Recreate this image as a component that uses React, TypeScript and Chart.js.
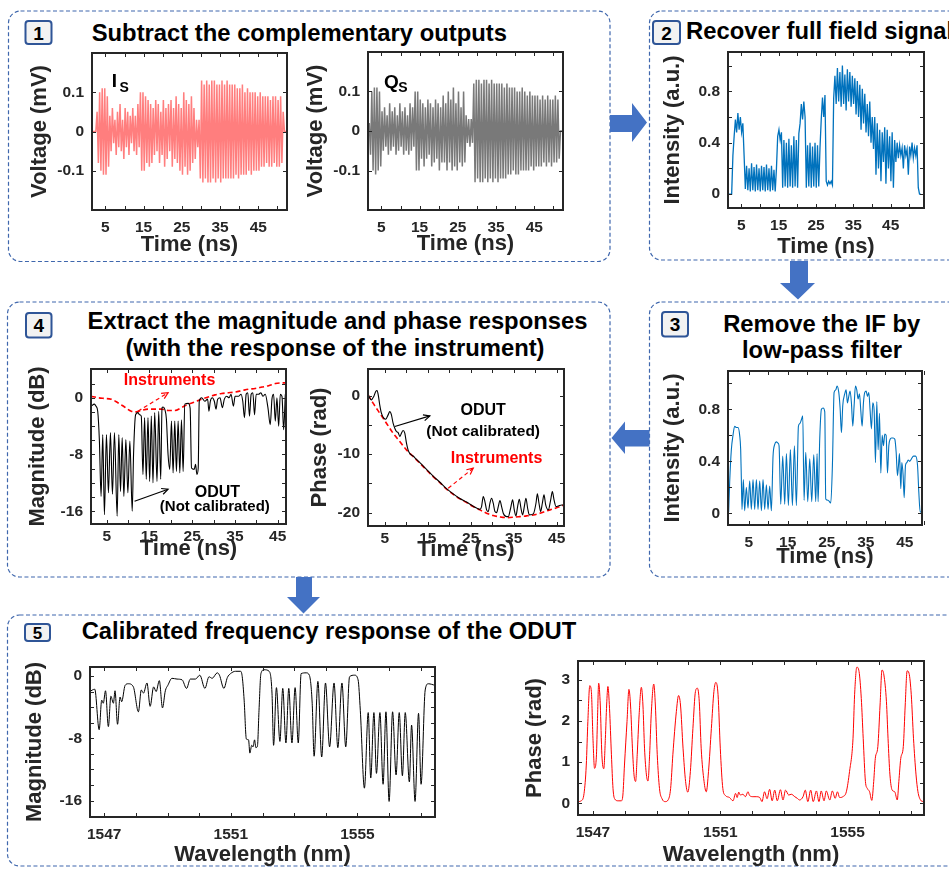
import React, { useEffect, useRef } from 'react';
import { Chart, registerables } from 'chart.js';

Chart.register(...registerables);

const FF = "'Liberation Sans', Arial, Helvetica, sans-serif";
const INK = '#262626';

type Pt = [number, number];

// ================= DATA =================
// Panel 1 : I_S (mV), uniform time grid start/step (ns)
const IS_START = 1.5;
const IS_STEP = 1 / 3;
const IS_VALUES = [
  0, 0, 0, 0,
  0.05, -0.08, 0.1, -0.1, 0.11, -0.11, 0.11, -0.11, 0.09, -0.09,
  0.04, -0.05, 0.06, -0.03, 0.03, -0.06, 0.05, -0.04, 0.07, -0.05, 0.03, -0.07, 0.06, -0.04, 0.05, -0.06, 0.04, -0.03, 0.06, -0.05, 0.04, -0.06, 0.07, -0.04,
  0.1, -0.1, 0.1, -0.1, 0.09,
  -0.08, 0.08, -0.09, 0.07, -0.08, 0.06,
  -0.06, 0.08, -0.05, 0.07, -0.08, 0.05, -0.06, 0.08, -0.09, 0.06, -0.07, 0.07, -0.05, 0.08, -0.09, 0.06,
  -0.07, 0.09, -0.08, 0.07, -0.1, 0.06, -0.11, 0.1, -0.09, 0.08, -0.11, 0.07, -0.1, 0.09, -0.08, 0.06, -0.07,
  0.03, -0.04, 0.03,
  -0.12, 0.13, -0.13, 0.12, -0.12, 0.13, -0.13, 0.12, -0.13, 0.13, -0.12, 0.13, -0.13, 0.12, -0.12, 0.12, -0.13, 0.13, -0.12, 0.12, -0.12, 0.13, -0.12, 0.12, -0.12, 0.12, -0.12,
  0.12, -0.11, 0.11, -0.12, 0.11, -0.11, 0.12, -0.11, 0.1, -0.11, 0.11, -0.1, 0.1, -0.11, 0.1, -0.1, 0.1, -0.1, 0.09, -0.1, 0.1, -0.09, 0.09,
  -0.09, 0.09, -0.08, 0.09, -0.09, 0.08, -0.09, 0.09, -0.08, 0.09, -0.09, 0.08, -0.09, 0.09, -0.08, 0.05,
  0, 0, 0,
];

// Panel 1 : Q_S (mV)
const QS_START = 1.5;
const QS_STEP = 1 / 3;
const QS_VALUES = [
  0, 0.02, -0.06, 0.1, -0.1, 0.11, -0.11, 0.11, -0.1, 0.1, -0.09,
  0.05, -0.05, 0.06, -0.04, 0.04, -0.06, 0.07, -0.05, 0.05, -0.04, 0.06, -0.06, 0.04, -0.05, 0.07, -0.04, 0.05, -0.06, 0.06, -0.05, 0.04, -0.06, 0.07, -0.05, 0.06, -0.04,
  0.1, -0.1, 0.1, -0.1,
  0.08, -0.07, 0.07, -0.09, 0.06, -0.07, 0.08, -0.06, 0.07, -0.09, 0.06, -0.08, 0.08, -0.07, 0.07, -0.1, 0.06, -0.08,
  0.09, -0.08, 0.07, -0.1, 0.1, -0.08, 0.08, -0.1, 0.11, -0.09, 0.07, -0.1, 0.1, -0.08, 0.06, -0.09, 0.1, -0.08,
  0.04, -0.03, 0.03, -0.04, 0.03, -0.03,
  0.12, -0.13, 0.13, -0.12, 0.13, -0.13, 0.12, -0.13, 0.13, -0.12, 0.13, -0.13, 0.12, -0.12, 0.13, -0.13, 0.12, -0.12, 0.12, -0.13, 0.12, -0.12, 0.12, -0.12, 0.11, -0.12, 0.12, -0.11,
  0.11, -0.11, 0.11, -0.1, 0.11, -0.11, 0.1, -0.11, 0.1, -0.1, 0.11, -0.1, 0.1, -0.1, 0.09, -0.1, 0.1, -0.09, 0.09, -0.1, 0.09, -0.09, 0.09, -0.09,
  0.08, -0.09, 0.09, -0.08, 0.08, -0.09, 0.09, -0.08, 0.08, -0.09, 0.08, -0.08, 0.09, -0.08, 0.08, -0.07,
  0, 0, 0,
];

// Panel 2 : recovered full field intensity (a.u.)
const FULL_START = 1.4;
const FULL_STEP = 1 / 3;
const FULL_VALUES = [
  0, 0, 0, 0,
  0.3, 0.45, 0.58, 0.48, 0.63, 0.5, 0.6, 0.48, 0.55, 0.3,
  0.04, 0.22, 0.03, 0.2, 0.02, 0.24, 0.03, 0.21, 0.02, 0.23, 0.03, 0.2, 0.02, 0.22, 0.03, 0.21, 0.02, 0.23, 0.03, 0.2, 0.02, 0.22, 0.03, 0.19, 0.02, 0.2,
  0.45, 0.5, 0.42, 0.48,
  0.05, 0.42, 0.06, 0.4, 0.05, 0.43, 0.06, 0.38, 0.05, 0.45, 0.06, 0.42, 0.05, 0.47,
  0.55, 0.7, 0.58, 0.72, 0.6,
  0.05, 0.38, 0.06, 0.4, 0.05, 0.37, 0.06, 0.4, 0.05, 0.38, 0.06, 0.36,
  0.58, 0.75, 0.6, 0.77,
  0.1, 0.07, 0.1, 0.08, 0.1, 0.07,
  0.75, 0.92, 0.7, 0.98, 0.72, 0.95, 0.68, 1.0, 0.7, 0.93, 0.65, 0.97, 0.72, 0.95, 0.68, 0.92, 0.7, 0.9, 0.62, 0.88, 0.6,
  0.85, 0.5, 0.82, 0.55, 0.78, 0.48, 0.7, 0.45, 0.72, 0.4, 0.6, 0.35, 0.6,
  0.15, 0.55, 0.2, 0.5, 0.1, 0.48, 0.25, 0.52, 0.08, 0.5, 0.2, 0.45, 0.1, 0.48, 0.05, 0.42, 0.25, 0.4,
  0.28, 0.38, 0.3, 0.36, 0.2, 0.38, 0.3, 0.35, 0.15, 0.37, 0.3, 0.4, 0.28, 0.36, 0.3, 0.38,
  0.05, 0, 0,
];

// Panel 3 : low-pass filtered intensity [time ns, a.u.]
const LP_POINTS: Pt[] = [
  [-0.13, 0.01], [0.13, 0.24], [0.56, 0.49], [0.98, 0.6], [1.41, 0.67], [1.84, 0.66], [2.26, 0.66], [2.69, 0.6], [2.95, 0.49], [3.12, 0.26],
  [3.29, 0.03], [3.63, 0.26], [3.97, 0.02], [4.4, 0.2], [4.83, 0.04], [5.26, 0.25], [5.68, 0.03], [6.11, 0.26], [6.54, 0.03], [6.97, 0.26],
  [7.39, 0.03], [7.82, 0.25], [8.25, 0.02], [8.68, 0.26], [9.1, 0.03], [9.53, 0.22], [9.96, 0.03], [10.38, 0.21], [10.81, 0.02], [11.24, 0.44],
  [11.67, 0.53], [12.09, 0.55], [12.52, 0.54], [12.78, 0.52], [13.21, 0.07], [13.72, 0.44], [14.23, 0.07], [14.66, 0.46], [15.17, 0.06], [15.68, 0.49],
  [16.2, 0.06], [16.71, 0.52], [17.22, 0.06], [17.74, 0.67], [18.08, 0.69], [18.5, 0.72], [18.85, 0.75], [19.19, 0.1], [19.62, 0.47], [20.13, 0.09],
  [20.64, 0.42], [21.15, 0.09], [21.67, 0.45], [22.18, 0.09], [22.52, 0.46], [22.78, 0.09], [23.21, 0.58], [23.63, 0.8], [24.06, 0.81], [24.49, 0.78],
  [24.74, 0.11], [25.34, 0.1], [26.03, 0.08], [26.45, 0.37], [26.88, 0.93], [27.31, 0.95], [27.65, 0.98], [28.08, 0.93], [28.42, 0.81], [28.76, 0.62],
  [29.1, 0.83], [29.62, 0.92], [29.96, 0.95], [30.3, 0.85], [30.64, 0.9], [30.98, 0.94], [31.32, 0.85], [31.67, 0.67], [32.01, 0.83], [32.35, 0.98],
  [32.69, 0.95], [33.03, 0.88], [33.38, 0.92], [33.72, 0.79], [34.06, 0.67], [34.4, 0.85], [34.74, 0.93], [35.09, 0.94], [35.43, 0.9], [35.77, 0.93],
  [36.11, 0.79], [36.45, 0.65], [36.79, 0.85], [37.14, 0.79], [37.48, 0.39], [37.82, 0.86], [38.16, 0.49], [38.5, 0.77], [38.85, 0.31], [39.19, 0.6],
  [39.53, 0.52], [39.87, 0.61], [40.21, 0.6], [40.56, 0.31], [40.9, 0.52], [41.24, 0.57], [41.58, 0.58], [42.01, 0.58], [42.44, 0.57], [42.78, 0.47],
  [43.12, 0.29], [43.38, 0.37], [43.63, 0.46], [43.97, 0.19], [44.23, 0.39], [44.57, 0.29], [44.83, 0.12], [45.17, 0.37], [45.51, 0.39], [45.85, 0.41],
  [46.28, 0.4], [46.71, 0.42], [47.22, 0.44], [47.74, 0.44], [48.25, 0.37], [48.59, 0.16], [48.93, 0.01], [49.27, 0.01],
];

// Panel 4 : magnitude (not calibrated) and instrument response [time ns, dB]
const MAG_ODUT: Pt[] = [
  [1.35, -1.2], [2.1, -0.9], [2.49, -1.2], [2.88, -1.9], [3.27, -6.0], [3.67, -13.9], [4.06, -5.2], [4.45, -16.5], [4.92, -5.2], [5.39, -13.4],
  [5.86, -4.9], [6.33, -13.6], [6.8, -4.9], [7.43, -16.7], [7.82, -5.2], [8.22, -13.2], [8.61, -5.6], [9.0, -13.9], [9.47, -5.9], [9.94, -13.4],
  [10.41, -6.1], [10.96, -16.0], [11.27, -8.0], [11.75, -2.4], [12.29, -2.1], [12.69, -2.4], [13.08, -2.6], [13.47, -10.8], [13.86, -2.8], [14.25, -11.5],
  [14.65, -2.8], [15.04, -11.8], [15.43, -2.6], [15.82, -12.0], [16.22, -2.1], [16.76, -11.8], [17.16, -1.9], [17.63, -11.5], [17.94, -1.4], [18.18, -1.3],
  [18.57, -1.6], [18.96, -3.0], [19.35, -8.0], [19.75, -10.1], [20.14, -3.3], [20.53, -10.6], [20.92, -3.3], [21.31, -10.4], [21.71, -3.3], [22.1, -10.6],
  [22.49, -3.1], [22.88, -10.4], [23.27, -0.9], [24.06, -0.8], [24.52, -1.5], [24.84, -9.9], [25.47, -10.1], [25.78, -9.4], [26.1, -10.8], [26.41, -9.9],
  [26.65, -0.5], [27.2, 0], [27.98, -0.5], [28.61, -0.2], [28.92, -1.9], [29.24, -0.5], [29.71, 0], [30.18, -0.5], [30.57, -1.6], [30.96, -0.2],
  [31.51, 0], [32.06, -1.4], [32.53, -0.2], [33.08, 0.2], [33.63, 0], [34.1, 0.5], [34.65, -1.2], [35.04, 0.2], [35.82, 0.2], [36.45, 0.5],
  [36.84, -0.5], [37.24, -2.8], [37.63, 0.5], [38.02, 0.7], [38.41, -2.6], [38.8, 0.5], [39.2, 0.7], [39.59, -2.4], [39.98, 0.5], [40.53, 0.5],
  [41.08, 0.7], [41.55, 0.2], [42.1, 0.5], [42.73, -1.4], [43.27, -3.8], [43.67, -0.2], [44.06, 0.5], [44.45, -3.3], [44.84, 0], [45.24, -4.0],
  [45.63, 0.5], [46.02, 0.2], [46.41, -4.5], [46.8, 0.5],
];
const MAG_INSTR: Pt[] = [
  [1.31, 0.2], [2.88, 0], [4.45, -0.1], [6.02, -0.2], [7.59, -0.7], [9.16, -1.3], [10.73, -1.9], [11.9, -2.0], [13.08, -1.8], [14.65, -1.6],
  [16.22, -1.6], [17.78, -1.6], [19.35, -1.8], [20.92, -1.8], [22.49, -1.4], [24.06, -0.9], [25.63, -0.6], [27.2, -0.2], [28.76, 0.1], [30.33, 0.4],
  [31.9, 0.6], [33.47, 0.7], [35.04, 0.8], [36.61, 1.0], [38.18, 1.2], [39.75, 1.3], [41.33, 1.5], [42.9, 1.7], [44.47, 2.0], [46.04, 2.1], [46.96, 2.1],
];

// Panel 4 : phase (not calibrated) and instrument response [time ns, rad]
const PH_ODUT: Pt[] = [
  [1.12, 0.17], [1.89, -0.69], [2.44, -0.11], [2.9, 0.74], [3.21, 0.91], [3.52, 0], [3.83, -1.54], [4.22, -2.97], [4.77, -3.83], [5.23, -4.0],
  [5.78, -3.26], [6.17, -2.69], [6.55, -3.26], [6.94, -4.69], [7.33, -5.54], [7.72, -6.11], [8.11, -6.29], [8.5, -6.97], [8.88, -6.4], [9.27, -5.94],
  [9.66, -6.4], [10.05, -8.11], [10.44, -9.3], [10.83, -9.9], [11.6, -10.3], [12.38, -10.9], [13.16, -11.45], [14.71, -12.6], [16.26, -13.75], [17.82, -14.8],
  [19.37, -15.9], [20.92, -16.8], [22.48, -17.6], [24.03, -18.2], [25.58, -18.9], [27.14, -19.45], [27.52, -18.97], [27.91, -17.26], [28.3, -18.11], [28.69, -19.54],
  [29.08, -19.83], [29.47, -18.4], [29.85, -17.54], [30.24, -18.4], [30.63, -19.83], [31.02, -20.0], [31.41, -18.97], [31.8, -17.94], [32.18, -18.97], [32.57, -20.11],
  [33.35, -20.69], [33.74, -20.69], [34.28, -19.26], [34.75, -17.83], [35.13, -19.54], [35.52, -20.57], [35.91, -18.97], [36.3, -17.71], [36.69, -19.26], [37.08, -20.4],
  [37.47, -18.97], [37.85, -17.54], [38.24, -19.26], [38.63, -20.4], [39.56, -20.23], [40.18, -18.4], [40.5, -16.8], [40.88, -18.4], [41.27, -19.83], [41.66, -18.4],
  [42.05, -16.97], [42.44, -18.69], [43.06, -19.54], [43.6, -17.83], [43.99, -16.4], [44.38, -17.83], [44.84, -18.97], [45.39, -18.86], [46.17, -18.69], [46.71, -18.69],
];
const PH_INSTR: Pt[] = [
  [1.12, 0.17], [2.28, -1.26], [3.83, -2.97], [5.39, -4.69], [6.94, -6.4], [8.5, -7.83], [10.05, -9.26], [11.6, -10.4], [13.16, -11.54], [14.71, -12.69],
  [16.26, -13.83], [17.82, -14.86], [19.37, -16.0], [20.92, -16.86], [22.48, -17.66], [24.03, -18.29], [25.58, -18.97], [27.14, -19.54], [28.69, -20.11], [30.24, -20.51],
  [31.8, -20.74], [33.35, -20.86], [34.9, -20.8], [36.46, -20.69], [38.01, -20.57], [39.56, -20.4], [41.12, -20.11], [42.67, -19.71], [44.22, -19.37], [45.78, -18.97], [46.71, -18.69],
];

// Panel 5 : calibrated magnitude [wavelength nm, dB]
const CAL_MAG: Pt[] = [
  [1546.54, -2.0], [1546.7, -1.7], [1546.84, -6.9], [1546.92, -3.1], [1546.97, -3.5], [1547.04, -1.9], [1547.13, -6.5], [1547.21, -2.6], [1547.29, -3.5], [1547.34, -1.9],
  [1547.42, -6.2], [1547.5, -2.7], [1547.55, -3.3], [1547.66, -1.2], [1547.76, -1.0], [1547.92, -1.4], [1548.08, -4.6], [1548.17, -1.8], [1548.24, -2.2], [1548.35, -0.9],
  [1548.45, -3.9], [1548.56, -1.4], [1548.64, -2.0], [1548.74, -0.6], [1548.84, -4.1], [1548.93, -1.9], [1549.01, -1.2], [1549.14, -0.3], [1549.3, -0.4], [1549.46, -0.5],
  [1549.6, -1.6], [1549.72, -0.4], [1549.88, -0.4], [1550.02, 0.1], [1550.18, -1.6], [1550.31, -0.1], [1550.41, -0.3], [1550.57, 0.4], [1550.64, 0.1], [1550.78, -1.6],
  [1550.89, -0.2], [1550.99, 0.3], [1551.15, 0.6], [1551.31, 0.6], [1551.36, -0.1], [1551.42, -3.1], [1551.49, -8.1], [1551.56, -8.2], [1551.6, -9.9], [1551.66, -8.9],
  [1551.7, -9.1], [1551.75, -8.2], [1551.79, -9.2], [1551.84, -9.0], [1551.89, -4.4], [1551.95, 0.3], [1552.05, 0.8], [1552.21, 0.6], [1552.3, -2.2], [1552.35, -8.9],
  [1552.44, -1.5], [1552.55, -8.4], [1552.64, -1.6], [1552.74, -8.6], [1552.83, -1.6], [1552.93, -8.6], [1553.03, -1.5], [1553.13, -8.6], [1553.22, 0.3], [1553.38, 0.4],
  [1553.48, 0.1], [1553.57, -3.5], [1553.63, -10.3], [1553.75, -0.7], [1553.87, -10.4], [1553.99, -0.9], [1554.12, -9.1], [1554.26, -0.9], [1554.38, -9.2], [1554.51, -0.9],
  [1554.63, -9.1], [1554.75, -0.1], [1554.91, 0.1], [1555.02, -0.5], [1555.09, -4.4], [1555.22, -14.4], [1555.34, -4.7], [1555.42, -13.1], [1555.52, -4.7], [1555.6, -12.5],
  [1555.71, -4.7], [1555.81, -13.9], [1555.9, -4.6], [1556.0, -16.1], [1556.11, -4.6], [1556.22, -12.7], [1556.32, -4.7], [1556.42, -12.8], [1556.51, -4.7], [1556.64, -13.6],
  [1556.71, -6.3], [1556.82, -16.1], [1556.93, -4.8], [1557.01, -13.9], [1557.14, -1.8], [1557.24, -1.0], [1557.45, -1.2],
];

// Panel 5 : calibrated phase [wavelength nm, rad]
const CAL_PHASE: Pt[] = [
  [1546.53, 0.04], [1546.63, 0.06], [1546.72, 0.24], [1546.79, 0.93], [1546.84, 1.99], [1546.9, 2.86], [1546.95, 2.72], [1547.0, 1.58], [1547.05, 0.85], [1547.11, 1.18],
  [1547.14, 1.99], [1547.18, 2.92], [1547.23, 2.39], [1547.28, 1.18], [1547.34, 0.84], [1547.39, 1.58], [1547.43, 2.39], [1547.47, 2.84], [1547.52, 2.31], [1547.58, 1.18],
  [1547.63, 0.36], [1547.68, 0.11], [1547.79, 0.06], [1547.89, 0.06], [1547.94, 0.2], [1547.99, 0.93], [1548.07, 1.99], [1548.13, 2.77], [1548.18, 2.39], [1548.24, 1.34],
  [1548.29, 0.69], [1548.34, 0.53], [1548.39, 1.18], [1548.45, 2.15], [1548.52, 2.82], [1548.57, 2.39], [1548.62, 1.34], [1548.68, 0.69], [1548.73, 0.54], [1548.78, 1.18],
  [1548.83, 2.15], [1548.91, 2.9], [1548.96, 2.39], [1549.02, 1.18], [1549.09, 0.36], [1549.17, 0.11], [1549.27, 0.04], [1549.36, 0.08], [1549.44, 0.36], [1549.51, 1.18],
  [1549.62, 2.23], [1549.69, 2.62], [1549.75, 2.39], [1549.83, 1.34], [1549.91, 0.53], [1549.98, 0.27], [1550.06, 0.77], [1550.14, 1.82], [1550.22, 2.72], [1550.28, 2.8],
  [1550.34, 2.47], [1550.4, 1.34], [1550.49, 0.53], [1550.56, 0.28], [1550.63, 0.77], [1550.72, 1.82], [1550.8, 2.72], [1550.86, 2.94], [1550.93, 2.64], [1551.0, 1.34],
  [1551.08, 0.36], [1551.16, 0.19], [1551.29, 0.14], [1551.4, 0.06], [1551.48, 0.24], [1551.53, 0.14], [1551.58, 0.27], [1551.63, 0.2], [1551.71, 0.22], [1551.79, 0.16],
  [1551.87, 0.28], [1551.92, 0.19], [1552.03, 0.16], [1552.13, 0.16], [1552.24, 0.14], [1552.31, 0.04], [1552.39, 0.28], [1552.47, 0.11], [1552.55, 0.34], [1552.63, 0.06],
  [1552.71, 0.32], [1552.79, 0.06], [1552.89, 0.33], [1552.97, 0.08], [1553.05, 0.32], [1553.15, 0.2], [1553.23, 0.22], [1553.34, 0.16], [1553.42, 0.12], [1553.49, 0.08],
  [1553.6, 0.16], [1553.67, 0.32], [1553.75, 0.04], [1553.84, 0.32], [1553.92, 0.04], [1554.02, 0.3], [1554.1, 0.04], [1554.17, 0.3], [1554.26, 0.06], [1554.33, 0.3],
  [1554.44, 0.08], [1554.52, 0.3], [1554.61, 0.12], [1554.68, 0.28], [1554.75, 0.14], [1554.85, 0.16], [1554.96, 0.28], [1555.06, 0.77], [1555.17, 1.58], [1555.22, 2.64],
  [1555.29, 3.31], [1555.36, 3.2], [1555.43, 2.55], [1555.49, 1.58], [1555.56, 0.53], [1555.62, 0.36], [1555.69, 0.28], [1555.76, 0.07], [1555.82, 0.53], [1555.87, 1.09],
  [1555.95, 1.38], [1556.02, 2.39], [1556.08, 3.24], [1556.14, 3.12], [1556.22, 2.47], [1556.27, 1.58], [1556.33, 0.69], [1556.4, 0.32], [1556.48, 0.28], [1556.56, 0.08],
  [1556.61, 0.53], [1556.67, 1.09], [1556.75, 1.38], [1556.81, 2.39], [1556.87, 3.22], [1556.93, 3.16], [1557.0, 2.64], [1557.07, 1.58], [1557.15, 0.69], [1557.21, 0.28],
  [1557.29, 0.08], [1557.37, 0.04],
];

// ticks & labels
const TIME_TICKS = [5, 10, 15, 20, 25, 30, 35, 40, 45, 50];
const TIME_LABELS = [5, 15, 25, 35, 45];
const VOLT_TICKS = [-0.1, 0, 0.1];
const INT_TICKS = [0, 0.2, 0.4, 0.6, 0.8, 1.0];
const INT_LABELS = [0, 0.4, 0.8];
const MAG_TICKS = [-16, -14, -12, -10, -8, -6, -4, -2, 0, 2];
const MAG_LABELS = [-16, -8, 0];
const PH_TICKS = [-20, -15, -10, -5, 0];
const PH_LABELS = [-20, -10, 0];
const CALMAG_TICKS = [-16, -14, -12, -10, -8, -6, -4, -2, 0];
const WL_TICKS = [1547, 1548, 1549, 1550, 1551, 1552, 1553, 1554, 1555, 1556, 1557];
const WL_LABELS = [1547, 1551, 1555];
const CALPH_TICKS = [0, 0.5, 1, 1.5, 2, 2.5, 3];
const CALPH_LABELS = [0, 1, 2, 3];

// ================= CHART MACHINERY =================
const PADL = 80;
const PADT = 10;
const PADR = 12;
const PADB = 56;
const TICK_SIZE = 15.5;
const AXIS_TITLE_SIZE = 22;

interface AxisSpec { min: number; max: number; ticks: number[]; labels: number[]; title: string; titlePos: number; tickPad?: number; }
interface TextAnn { x: number; y: number; text: string; size: number; color?: string; align?: CanvasTextAlign; baseline?: CanvasTextBaseline; }
interface ArrowAnn { x1: number; y1: number; x2: number; y2: number; color: string; dash?: number[]; }
interface PlotSpec { id: string; box: [number, number, number, number]; x: AxisSpec; y: AxisSpec; datasets: any[]; texts?: TextAnn[]; arrows?: ArrowAnn[]; }

const seq = (start: number, step: number, vals: number[]) => vals.map((v, i) => ({ x: start + i * step, y: v }));
const pts = (arr: Pt[]) => arr.map(([x, y]) => ({ x, y }));
const line = (data: any[], color: string, width: number, extra: any = {}) => ({
  data, borderColor: color, borderWidth: width, pointRadius: 0, fill: false, tension: 0, ...extra,
});
const smooth = { cubicInterpolationMode: 'monotone' };

function overlayPlugin(spec: PlotSpec) {
  return {
    id: 'overlay_' + spec.id,
    afterDatasetsDraw(chart: any) {
      const { ctx, chartArea } = chart;
      const xs = chart.scales.x;
      const ys = chart.scales.y;
      const { left, top, right, bottom } = chartArea;
      ctx.save();
      ctx.strokeStyle = INK;
      ctx.lineWidth = 1;
      ctx.beginPath();
      const TL = 4;
      for (const tk of xs.ticks) {
        const px = Math.round(xs.getPixelForValue(tk.value)) + 0.5;
        ctx.moveTo(px, bottom); ctx.lineTo(px, bottom - TL);
        ctx.moveTo(px, top); ctx.lineTo(px, top + TL);
      }
      for (const tk of ys.ticks) {
        const py = Math.round(ys.getPixelForValue(tk.value)) + 0.5;
        ctx.moveTo(left, py); ctx.lineTo(left + TL, py);
        ctx.moveTo(right, py); ctx.lineTo(right - TL, py);
      }
      ctx.stroke();
      ctx.lineWidth = 2;
      ctx.strokeRect(left, top, right - left, bottom - top);

      for (const a of spec.arrows || []) {
        const x1 = xs.getPixelForValue(a.x1), y1 = ys.getPixelForValue(a.y1);
        const x2 = xs.getPixelForValue(a.x2), y2 = ys.getPixelForValue(a.y2);
        ctx.strokeStyle = a.color;
        ctx.lineWidth = 1.2;
        ctx.setLineDash(a.dash || []);
        ctx.beginPath(); ctx.moveTo(x1, y1); ctx.lineTo(x2, y2); ctx.stroke();
        ctx.setLineDash([]);
        const ang = Math.atan2(y2 - y1, x2 - x1);
        const hl = 7;
        ctx.beginPath();
        ctx.moveTo(x2 - hl * Math.cos(ang - 0.45), y2 - hl * Math.sin(ang - 0.45));
        ctx.lineTo(x2, y2);
        ctx.lineTo(x2 - hl * Math.cos(ang + 0.45), y2 - hl * Math.sin(ang + 0.45));
        ctx.stroke();
      }
      for (const t of spec.texts || []) {
        ctx.font = `bold ${t.size}px ${FF}`;
        ctx.fillStyle = t.color || '#000';
        ctx.textAlign = t.align || 'center';
        ctx.textBaseline = t.baseline || 'middle';
        ctx.fillText(t.text, xs.getPixelForValue(t.x), ys.getPixelForValue(t.y));
      }
      ctx.restore();
    },
  };
}

function buildConfig(spec: PlotSpec): any {
  const [l, , , b] = spec.box;
  const tickFont = { family: FF, size: TICK_SIZE, weight: 'bold' };
  const titleFont = { family: FF, size: AXIS_TITLE_SIZE, weight: 'bold' };
  const lh = AXIS_TITLE_SIZE * 1.2;
  const yTitlePad = spec.y.titlePos - (l - PADL) - lh / 2;
  const xTitlePad = b + PADB - lh / 2 - spec.x.titlePos;
  const fmt = (labels: number[]) => (v: any) => (labels.indexOf(Number(v)) >= 0 ? String(v) : '');
  return {
    type: 'line',
    data: { datasets: spec.datasets },
    plugins: [overlayPlugin(spec)],
    options: {
      animation: false,
      responsive: false,
      devicePixelRatio: 1,
      events: [],
      layout: { padding: { left: 0, top: PADT, right: PADR, bottom: 0 } },
      plugins: { legend: { display: false }, tooltip: { enabled: false }, title: { display: false } },
      elements: { point: { radius: 0 } },
      scales: {
        x: {
          type: 'linear', position: 'bottom', min: spec.x.min, max: spec.x.max,
          afterBuildTicks: (s: any) => { s.ticks = spec.x.ticks.map((v) => ({ value: v })); },
          afterFit: (s: any) => { s.height = PADB; s.paddingLeft = 0; s.paddingRight = 0; s.paddingTop = 0; s.paddingBottom = 0; },
          ticks: { autoSkip: false, maxRotation: 0, minRotation: 0, padding: spec.x.tickPad ?? 8, color: INK, font: tickFont, callback: fmt(spec.x.labels) },
          grid: { display: false, drawTicks: false },
          border: { display: false },
          title: { display: true, text: spec.x.title, color: INK, font: titleFont, padding: { top: 0, bottom: xTitlePad } },
        },
        y: {
          type: 'linear', position: 'left', min: spec.y.min, max: spec.y.max,
          afterBuildTicks: (s: any) => { s.ticks = spec.y.ticks.map((v) => ({ value: v })); },
          afterFit: (s: any) => { s.width = PADL; s.paddingTop = 0; s.paddingBottom = 0; },
          ticks: { autoSkip: false, padding: spec.y.tickPad ?? 8, color: INK, font: tickFont, callback: fmt(spec.y.labels) },
          grid: { display: false, drawTicks: false },
          border: { display: false },
          title: { display: true, text: spec.y.title, color: INK, font: titleFont, padding: { top: yTitlePad, bottom: 0 } },
        },
      },
    },
  };
}

function PlotChart({ spec }: { spec: PlotSpec }) {
  const ref = useRef<HTMLCanvasElement | null>(null);
  const [l, t, r, b] = spec.box;
  const W = r - l + PADL + PADR;
  const H = b - t + PADT + PADB;
  useEffect(() => {
    const chart = new Chart(ref.current as HTMLCanvasElement, buildConfig(spec));
    return () => chart.destroy();
  }, [spec]);
  return (
    <canvas ref={ref} width={W} height={H}
      style={{ position: 'absolute', left: l - PADL, top: t - PADT, width: W, height: H }} />
  );
}

const timeAxis = (min: number, max: number, titlePos: number, tickPad = 8): AxisSpec => ({
  min, max, ticks: TIME_TICKS, labels: TIME_LABELS, title: 'Time (ns)', titlePos, tickPad,
});
const wlAxis = (min: number, max: number): AxisSpec => ({
  min, max, ticks: WL_TICKS, labels: WL_LABELS, title: 'Wavelength (nm)', titlePos: 855,
});

const SPECS: PlotSpec[] = [
  {
    id: 'is', box: [92, 53, 287, 210],
    x: timeAxis(1.5, 52.5, 245),
    y: { min: -0.2, max: 0.2, ticks: VOLT_TICKS, labels: VOLT_TICKS, title: 'Voltage (mV)', titlePos: 40 },
    datasets: [line(seq(IS_START, IS_STEP, IS_VALUES), 'rgba(255,112,112,0.9)', 1.5)],
    texts: [
      { x: 6.65, y: 0.1126, text: 'I', size: 19, align: 'left', baseline: 'alphabetic' },
      { x: 8.69, y: 0.101, text: 'S', size: 14, align: 'left', baseline: 'alphabetic' },
    ],
  },
  {
    id: 'qs', box: [368, 52, 563, 210],
    x: timeAxis(1.5, 52.5, 244),
    y: { min: -0.2, max: 0.2, ticks: VOLT_TICKS, labels: VOLT_TICKS, title: 'Voltage (mV)', titlePos: 316 },
    datasets: [line(seq(QS_START, QS_STEP, QS_VALUES), 'rgba(110,110,110,0.92)', 1.5)],
    texts: [
      { x: 5.68, y: 0.1088, text: 'Q', size: 19, align: 'left', baseline: 'alphabetic' },
      { x: 9.42, y: 0.0995, text: 'S', size: 14, align: 'left', baseline: 'alphabetic' },
    ],
  },
  {
    id: 'full', box: [728, 52, 924, 208],
    x: timeAxis(1.42, 53.93, 246.5),
    y: { min: -0.108, max: 1.105, ticks: INT_TICKS, labels: INT_LABELS, title: 'Intensity (a.u.)', titlePos: 673 },
    datasets: [line(seq(FULL_START, FULL_STEP, FULL_VALUES), '#0072BD', 1.3)],
  },
  {
    id: 'lp', box: [728, 371, 922, 525],
    x: timeAxis(-0.3, 49.4, 557),
    y: { min: -0.09, max: 1.095, ticks: INT_TICKS, labels: INT_LABELS, title: 'Intensity (a.u.)', titlePos: 673 },
    datasets: [line(pts(LP_POINTS), '#0072BD', 1.1, smooth)],
  },
  {
    id: 'mag', box: [91, 369, 286, 524],
    x: timeAxis(1.31, 46.96, 549, 3),
    y: { min: -17.8, max: 4.05, ticks: MAG_TICKS, labels: MAG_LABELS, title: 'Magnitude (dB)', titlePos: 38 },
    datasets: [
      line(pts(MAG_ODUT), '#000000', 1.1, smooth),
      line(pts(MAG_INSTR), '#ff0000', 1.6, { ...smooth, borderDash: [5, 3] }),
    ],
    texts: [
      { x: 19.7, y: 2.35, text: 'Instruments', size: 16, color: '#ff0000' },
      { x: 30.9, y: -13.4, text: 'ODUT', size: 16 },
      { x: 30.3, y: -15.4, text: '(Not calibrated)', size: 15 },
    ],
    arrows: [
      { x1: 12.3, y1: -1.9, x2: 19.35, y2: 0.7, color: '#ff0000', dash: [4, 3] },
      { x1: 11.5, y1: -14.6, x2: 19.35, y2: -12.9, color: '#000000' },
    ],
  },
  {
    id: 'ph', box: [368, 369, 564, 526],
    x: timeAxis(1.1, 46.7, 550, 3),
    y: { min: -22.3, max: 4.6, ticks: PH_TICKS, labels: PH_LABELS, title: 'Phase (rad)', titlePos: 320 },
    datasets: [
      line(pts(PH_ODUT), '#000000', 1.1, smooth),
      line(pts(PH_INSTR), '#ff0000', 1.6, { ...smooth, borderDash: [5, 3] }),
    ],
    texts: [
      { x: 27.9, y: -2.5, text: 'ODUT', size: 16 },
      { x: 27.9, y: -6.1, text: '(Not calibrated)', size: 15.5 },
      { x: 31.0, y: -10.7, text: 'Instruments', size: 16, color: '#ff0000' },
    ],
    arrows: [
      { x1: 7.33, y1: -5.26, x2: 15.49, y2: -3.43, color: '#000000' },
      { x1: 19.76, y1: -15.83, x2: 25.58, y2: -12.4, color: '#ff0000', dash: [4, 3] },
    ],
  },
  {
    id: 'calmag', box: [90, 667, 435, 817],
    x: wlAxis(1546.55, 1557.45),
    y: { min: -18.1, max: 1.15, ticks: CALMAG_TICKS, labels: MAG_LABELS, title: 'Magnitude (dB)', titlePos: 35 },
    datasets: [line(pts(CAL_MAG), '#000000', 1, smooth)],
  },
  {
    id: 'calph', box: [578, 661, 924, 815],
    x: wlAxis(1546.53, 1557.4),
    y: { min: -0.285, max: 3.46, ticks: CALPH_TICKS, labels: CALPH_LABELS, title: 'Phase (rad)', titlePos: 535 },
    datasets: [line(pts(CAL_PHASE), '#ff0000', 1, smooth)],
  },
];

// ================= DECORATION =================
const PANELS = [
  { x: 8.5, y: 11, w: 601.5, h: 250.5 },
  { x: 649.5, y: 11, w: 330, h: 249 },
  { x: 649.5, y: 302, w: 330, h: 275 },
  { x: 7.5, y: 302, w: 602.5, h: 275 },
  { x: 7.5, y: 615, w: 970, h: 251 },
];
const BADGES = [
  { n: '1', x: 25.5, y: 21, w: 26, h: 23, s: 19 },
  { n: '2', x: 653, y: 21, w: 27, h: 23, s: 19 },
  { n: '3', x: 662, y: 312, w: 26, h: 24.5, s: 19 },
  { n: '4', x: 26, y: 313, w: 25.5, h: 24.5, s: 19 },
  { n: '5', x: 25, y: 624, w: 25, h: 17, s: 17 },
];
const ARROWS = [
  '610,115 632,115 632,103 647,122.5 632,142 632,132 610,132',
  '790,261 808,261 808,283 815,283 798,299.5 780,283 790,283',
  '649.5,430 625,430 625,421.5 611.5,438 625,454 625,446.5 649.5,446.5',
  '296,577 312,577 312,597 320,597 303.5,613.5 287,597 296,597',
];
const TITLES = [
  { text: 'Subtract the complementary outputs', x: 91.7, y: 40.7, align: 'left' },
  { text: 'Recover full field signal', x: 686, y: 39.3, align: 'left' },
  { text: 'Remove the IF by', x: 821.7, y: 331.7, align: 'center' },
  { text: 'low-pass filter', x: 822, y: 358.3, align: 'center' },
  { text: 'Extract the magnitude and phase responses', x: 337.5, y: 329.3, align: 'center' },
  { text: '(with the response of the instrument)', x: 335, y: 356, align: 'center' },
  { text: 'Calibrated frequency response of the ODUT', x: 81.7, y: 639.3, align: 'left' },
];
const TITLE_SIZE = 23.8;

function Title({ text, x, y, align }: { text: string; x: number; y: number; align: string }) {
  const top = y - 0.8465 * TITLE_SIZE;
  const style: any = {
    position: 'absolute', top, fontFamily: FF, fontWeight: 'bold', fontSize: TITLE_SIZE,
    lineHeight: `${TITLE_SIZE}px`, whiteSpace: 'nowrap', color: '#000', margin: 0,
  };
  if (align === 'center') { style.left = x - 400; style.width = 800; style.textAlign = 'center'; }
  else { style.left = x; }
  return <div style={style}>{text}</div>;
}

export default function App() {
  return (
    <div style={{ position: 'absolute', left: 0, top: 0, width: 949, height: 871, overflow: 'hidden', background: '#ffffff' }}>
      <svg width={949} height={871} style={{ position: 'absolute', left: 0, top: 0 }}>
        {PANELS.map((p, i) => (
          <rect key={i} x={p.x} y={p.y} width={p.w} height={p.h} rx={12} ry={12}
            fill="none" stroke="#3f67ad" strokeWidth={1.2} strokeDasharray="4 2.5" />
        ))}
        {ARROWS.map((a, i) => <polygon key={i} points={a} fill="#4472C4" />)}
        {BADGES.map((bd) => (
          <g key={bd.n}>
            <rect x={bd.x} y={bd.y} width={bd.w} height={bd.h} rx={3} ry={3} fill="#f2f2f2" stroke="#2f5597" strokeWidth={2} />
            <text x={bd.x + bd.w / 2} y={bd.y + bd.h / 2 + 0.5} textAnchor="middle" dominantBaseline="central"
              fontFamily={FF} fontWeight="bold" fontSize={bd.s} fill="#000">{bd.n}</text>
          </g>
        ))}
      </svg>
      {TITLES.map((t, i) => <Title key={i} {...t} />)}
      {SPECS.map((s) => <PlotChart key={s.id} spec={s} />)}
    </div>
  );
}
